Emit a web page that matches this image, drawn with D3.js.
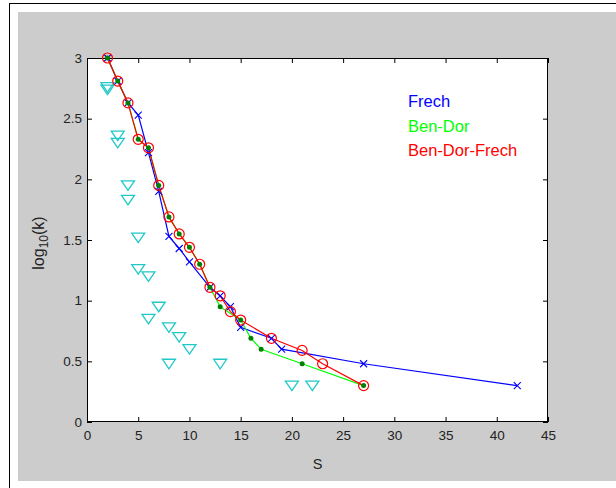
<!DOCTYPE html>
<html><head><meta charset="utf-8">
<script src="https://cdn.jsdelivr.net/npm/d3@7"></script>
<style>body{margin:0;background:#fff;}svg{display:block;font-family:"Liberation Sans",Arial,Helvetica,sans-serif;}</style>
</head><body>
<script>
// Frech
const frechS = [2,3,4,5,6,7,8,9,10,12,13,14,15,18,19,27,42];
const frechV = [3.00,2.81,2.63,2.53,2.22,1.90,1.53,1.43,1.32,1.11,1.04,0.95,0.78,0.69,0.60,0.48,0.30];
// Ben-Dor
const benDorS = [2,3,4,5,6,7,8,9,10,11,12,13,15,16,17,21,27];
const benDorV = [3.00,2.81,2.63,2.33,2.26,1.95,1.69,1.55,1.44,1.30,1.11,0.95,0.84,0.69,0.60,0.48,0.30];
// Ben-Dor-Frech
const bdfS = [2,3,4,5,6,7,8,9,10,11,12,13,14,15,18,21,23,27];
const bdfV = [3.00,2.81,2.63,2.33,2.26,1.95,1.69,1.55,1.44,1.30,1.11,1.04,0.91,0.84,0.69,0.59,0.48,0.30];
// triangles
const triS = [2,2,3,3,4,4,5,5,6,7,6,8,9,10,8,13,20,22];
const triV = [2.76,2.74,2.36,2.30,1.95,1.83,1.52,1.26,1.20,0.95,0.85,0.78,0.70,0.60,0.48,0.48,0.30,0.30];
const xTicks = [0,5,10,15,20,25,30,35,40,45];
const yTicks = [0,0.5,1,1.5,2,2.5,3];
const legendLabels = ["Frech","Ben-Dor","Ben-Dor-Frech"];

const W=616,H=488;
const L=87,R=548,T=58,B=422;
const svg=d3.select("body").append("svg").attr("width",W).attr("height",H);
svg.append("rect").attr("x",18).attr("y",12).attr("width",W-18).attr("height",469).attr("fill","#cccccc");
svg.append("line").attr("x1",9.5).attr("x2",9.5).attr("y1",3).attr("y2",H).attr("stroke","#000");
svg.append("line").attr("x1",9).attr("x2",W).attr("y1",3.5).attr("y2",3.5).attr("stroke","#000");
svg.append("rect").attr("x",L).attr("y",T).attr("width",R-L).attr("height",B-T).attr("fill","#fff");

const x=d3.scaleLinear().domain([0,45]).range([L,R]);
const y=d3.scaleLinear().domain([0,3]).range([B,T]);

const fmt=d=>String(d);
const gx=svg.append("g").attr("transform",`translate(0,${B})`).call(d3.axisBottom(x).tickValues(xTicks).tickFormat(fmt).tickSizeInner(-5).tickSizeOuter(0).tickPadding(8));
const gxt=svg.append("g").attr("transform",`translate(0,${T})`).call(d3.axisTop(x).tickValues(xTicks).tickFormat("").tickSizeInner(-5).tickSizeOuter(0));
const gy=svg.append("g").attr("transform",`translate(${L},0)`).call(d3.axisLeft(y).tickValues(yTicks).tickFormat(fmt).tickSizeInner(-5).tickSizeOuter(0).tickPadding(5));
const gyr=svg.append("g").attr("transform",`translate(${R},0)`).call(d3.axisRight(y).tickValues(yTicks).tickFormat("").tickSizeInner(-5).tickSizeOuter(0));
[gx,gxt,gy,gyr].forEach(g=>{g.select(".domain").remove();g.selectAll("line").attr("stroke","#000");g.selectAll("text").attr("fill","#222").style("font-size","13.5px").style("font-family",'"Liberation Sans",Arial,sans-serif');});
svg.append("rect").attr("x",L+0.5).attr("y",T+0.5).attr("width",R-L-1).attr("height",B-T-1).attr("fill","none").attr("stroke","#000");

const clip=svg.append("g");
const line=d3.line().x(d=>x(d[0])).y(d=>y(d[1]));
const zip=(a,b)=>a.map((v,i)=>[v,b[i]]);
const frech=zip(frechS,frechV), bd=zip(benDorS,benDorV), bdf=zip(bdfS,bdfV), tri=zip(triS,triV);

// triangles
clip.selectAll(".tri").data(tri).join("path").attr("d",d=>{const cx=x(d[0]),cy=y(d[1]);return `M${cx-6.5},${cy-4.5}L${cx+6.5},${cy-4.5}L${cx},${cy+5}Z`;})
  .attr("fill","none").attr("stroke","#20c8c8").attr("stroke-width",1.3);

clip.append("path").attr("d",line(frech)).attr("fill","none").attr("stroke","#0000ff").attr("stroke-width",1.2);
clip.append("path").attr("d",line(bd)).attr("fill","none").attr("stroke","#00ff00").attr("stroke-width",1.2);
clip.append("path").attr("d",line(bdf)).attr("fill","none").attr("stroke","#ff0000").attr("stroke-width",1.2);

clip.selectAll(".xm").data(frech).join("path").attr("d",d=>{const cx=x(d[0]),cy=y(d[1]),s=3.5;return `M${cx-s},${cy-s}L${cx+s},${cy+s}M${cx-s},${cy+s}L${cx+s},${cy-s}`;})
  .attr("stroke","#0000ff").attr("stroke-width",1.1);
clip.selectAll(".cm").data(bdf).join("circle").attr("cx",d=>x(d[0])).attr("cy",d=>y(d[1])).attr("r",5).attr("fill","none").attr("stroke","#ff0000").attr("stroke-width",1.2);
clip.selectAll(".dm").data(bd).join("circle").attr("cx",d=>x(d[0])).attr("cy",d=>y(d[1])).attr("r",2.5).attr("fill","#008000");

// legend texts
const lc=["#0000ff","#00ff00","#ff0000"];
legendLabels.forEach((t,i)=>svg.append("text").attr("x",408).attr("y",107+i*24.5).attr("fill",lc[i]).style("font-size","16.5px").text(t));

// axis labels
svg.append("text").attr("x",(L+R)/2).attr("y",469).attr("text-anchor","middle").attr("fill","#222").style("font-size","14.5px").text("S");
const yl=svg.append("text").attr("transform","translate(44,243) rotate(-90)").attr("text-anchor","middle").attr("fill","#222").style("font-size","16px");
yl.append("tspan").text("log");
yl.append("tspan").attr("dy",4).style("font-size","12px").text("10");
yl.append("tspan").attr("dy",-4).text("(k)");
</script>
</body></html>
